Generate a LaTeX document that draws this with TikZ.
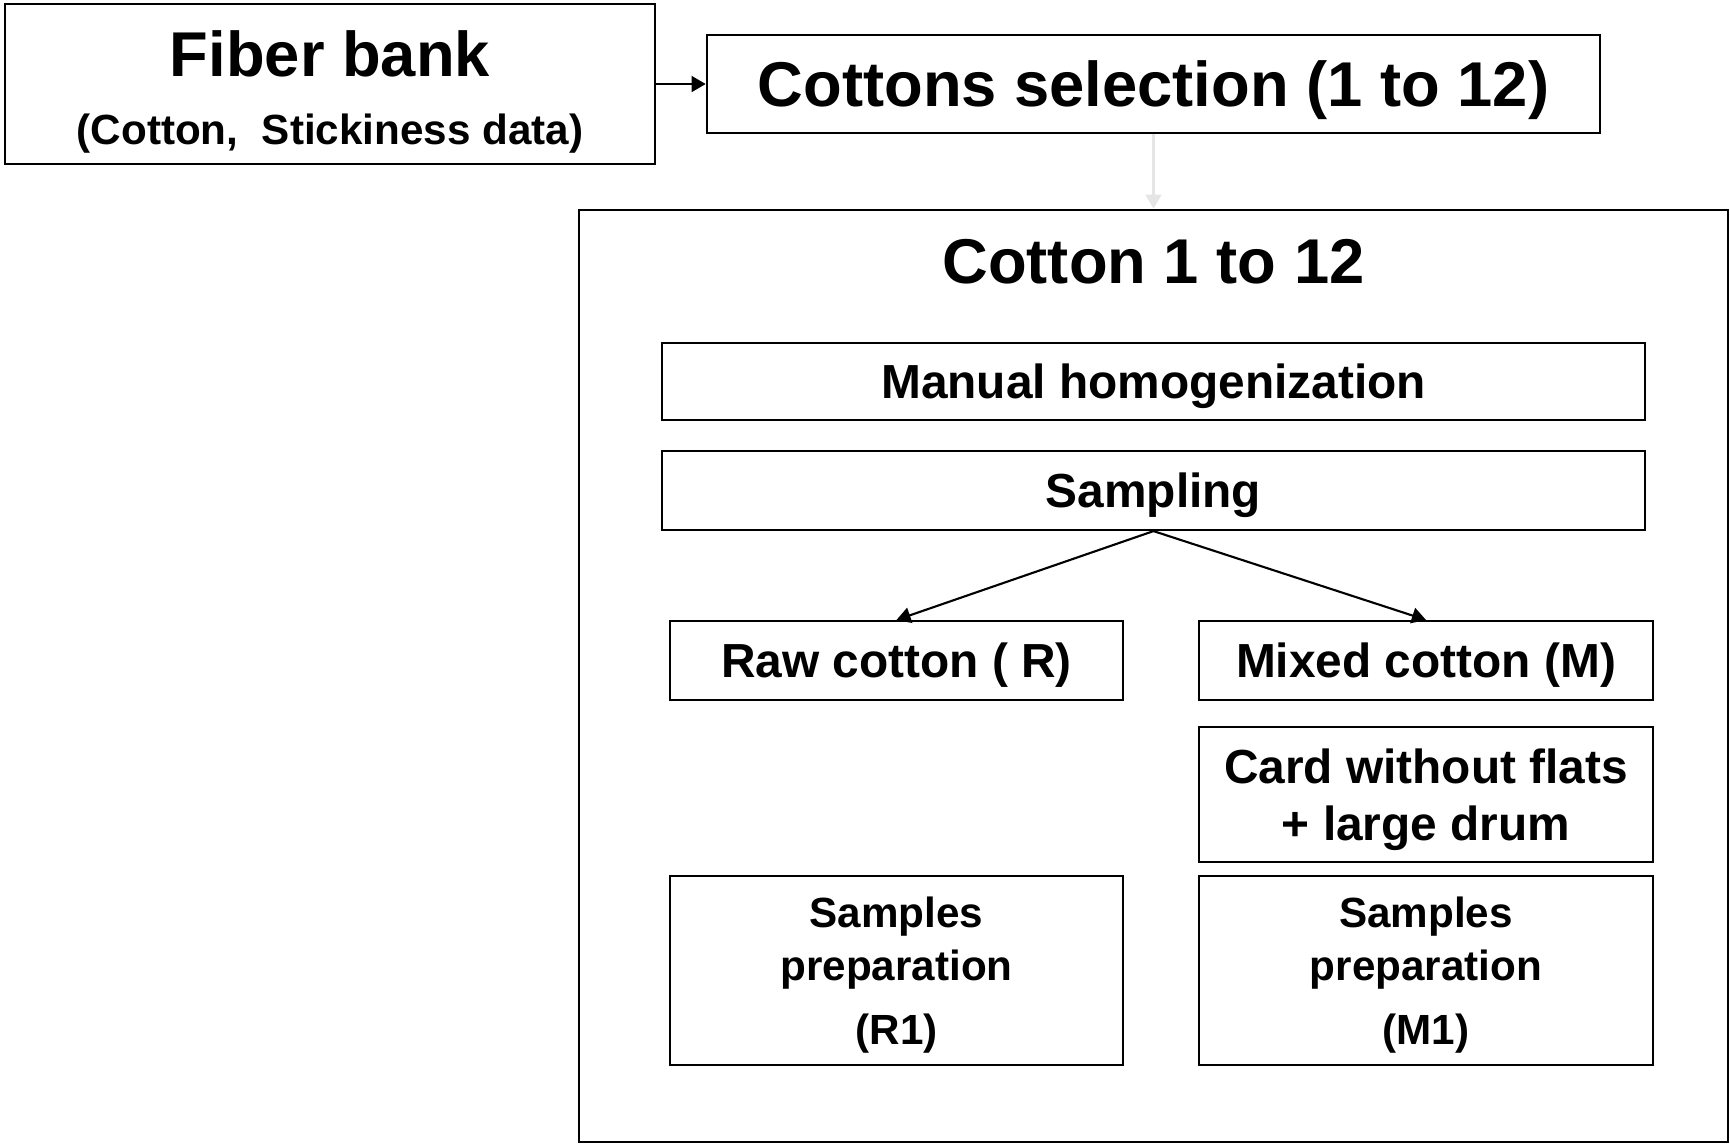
\documentclass[tikz,border=0pt]{standalone}
\usepackage{fontspec}
\setmainfont{Liberation Sans}
\usetikzlibrary{arrows.meta}
\begin{document}
\begin{tikzpicture}[x=0.01cm,y=-0.01cm,
	box/.style={draw,line width=0.6pt,inner sep=0pt,align=center,text depth=0pt,font=\bfseries\fontsize{13.6}{16.3}\selectfont},
	big/.style={font=\bfseries\fontsize{18}{21.6}\selectfont},
	small/.style={font=\bfseries\fontsize{12}{14.5}\selectfont},
	arr/.style={-{Triangle[length=4pt,width=4.5pt]},line width=0.6pt}]
	\useasboundingbox (0,0) rectangle (1730,1147);
	\node[box,minimum width=6.5cm,minimum height=1.6cm] (fiber) at (330,84) {{\fontsize{18}{21.6}\selectfont\rule{0pt}{15pt}Fiber bank}\\[3pt]{\fontsize{12}{14.5}\selectfont (Cotton,\ \ Stickiness data)}};
	\node[box,big,minimum width=8.93cm,minimum height=0.98cm] (select) at (1153.5,84) {Cottons selection (1 to 12)};
	\node[box,minimum width=11.49cm,minimum height=9.32cm] (group) at (1153.5,676) {};
	\node[big,anchor=base] (title) at (1153.5,283) {Cotton 1 to 12};
	\node[box,minimum width=9.83cm,minimum height=0.77cm] (homog) at (1153.5,381.5) {Manual homogenization};
	\node[box,minimum width=9.83cm,minimum height=0.79cm] (sampling) at (1153.5,490.5) {Sampling};
	\node[box,minimum width=4.53cm,minimum height=0.79cm] (raw) at (896.5,660.5) {Raw cotton ( R)};
	\node[box,minimum width=4.54cm,minimum height=0.79cm] (mixed) at (1426,660.5) {Mixed cotton (M)};
	\node[box,minimum width=4.54cm,minimum height=1.35cm] (card) at (1426,794.5) {Card without flats\\+ large drum};
	\node[box,small,minimum width=4.53cm,minimum height=1.89cm] (prepR) at (896.5,970.5) {Samples\\[0.6pt]preparation\\[3.5pt](R1)};
	\node[box,small,minimum width=4.54cm,minimum height=1.89cm] (prepM) at (1426,970.5) {Samples\\[0.6pt]preparation\\[3.5pt](M1)};
	\draw[arr] (fiber) -- (select);
	\draw[arr,color=black!10] (select) -- (group);
	\draw[arr] (sampling.south) -- (raw.north);
	\draw[arr] (sampling.south) -- (mixed.north);
\end{tikzpicture}
\end{document}
